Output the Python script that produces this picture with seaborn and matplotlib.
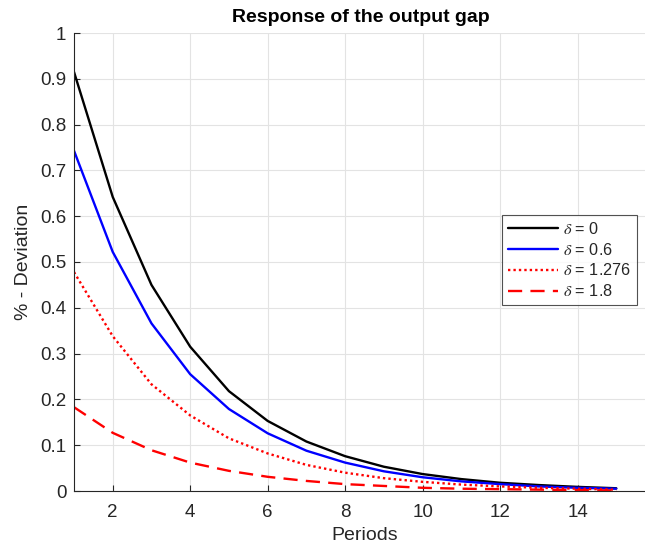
import matplotlib
matplotlib.use("Agg")
import matplotlib.pyplot as plt
import seaborn as sns
import pandas as pd

periods = list(range(1, 16))
delta_0 = [0.915, 0.642, 0.450, 0.315, 0.218, 0.153, 0.108, 0.076, 0.053, 0.037, 0.026, 0.018, 0.013, 0.009, 0.006]
delta_06 = [0.743, 0.522, 0.366, 0.255, 0.179, 0.126, 0.088, 0.062, 0.043, 0.030, 0.021, 0.015, 0.010, 0.007, 0.005]
delta_1276 = [0.478, 0.338, 0.233, 0.165, 0.115, 0.082, 0.057, 0.040, 0.028, 0.020, 0.014, 0.010, 0.007, 0.005, 0.003]
delta_18 = [0.183, 0.127, 0.089, 0.062, 0.044, 0.031, 0.022, 0.015, 0.011, 0.007, 0.005, 0.004, 0.003, 0.002, 0.001]
labels = [r"$\delta$ = 0", r"$\delta$ = 0.6", r"$\delta$ = 1.276", r"$\delta$ = 1.8"]
xticks = [2, 4, 6, 8, 10, 12, 14]
yticks = [0, 0.1, 0.2, 0.3, 0.4, 0.5, 0.6, 0.7, 0.8, 0.9, 1]
ytick_labels = ["0", "0.1", "0.2", "0.3", "0.4", "0.5", "0.6", "0.7", "0.8", "0.9", "1"]

sns.set_style("white")
plt.rcParams["font.family"] = ["Liberation Sans", "DejaVu Sans"]
plt.rcParams["mathtext.fontset"] = "stix"

fig = plt.figure(figsize=(6.45, 5.51), dpi=100)
ax = fig.add_axes([74 / 645, 60 / 551, (655 - 74) / 645, (491 - 33) / 551])

series = [delta_0, delta_06, delta_1276, delta_18]
colors = ["black", "blue", "red", "red"]
styles = ["-", "-", (0, (1, 1.3)), (0, (6, 3.5))]
for vals, lab, c, ls in zip(series, labels, colors, styles):
    df = pd.DataFrame({"Periods": periods, "val": vals})
    sns.lineplot(data=df, x="Periods", y="val", ax=ax, color=c, linestyle=ls,
                 linewidth=1.7, label=lab)

ax.set_xlim(1, 16)
ax.set_ylim(0, 1)
ax.set_xticks(xticks)
ax.set_xticklabels([str(t) for t in xticks])
ax.set_yticks(yticks)
ax.set_yticklabels(ytick_labels)
ax.grid(True, color="#e3e3e3", linewidth=0.8)
ax.set_axisbelow(True)
for s in ["top", "right"]:
    ax.spines[s].set_visible(False)
ax.spines["left"].set_color("#262626")
ax.spines["bottom"].set_color("#262626")
ax.spines["left"].set_linewidth(0.8)
ax.spines["bottom"].set_linewidth(0.8)
ax.tick_params(axis="both", direction="in", length=4, width=0.8, colors="#262626",
               labelsize=13.5, left=True, bottom=True)
ax.tick_params(axis="x", pad=9.5)
ax.tick_params(axis="y", pad=5.5)
ax.set_xlabel("Periods", fontsize=14, color="#262626", labelpad=4)
ax.set_ylabel("% - Deviation", fontsize=14, color="#262626", labelpad=6)
fig.text(361 / 645, 1 - 18 / 551, "Response of the output gap", ha="center", va="center",
         fontsize=14, fontweight="bold", color="black")

leg = ax.legend(loc="upper right", bbox_to_anchor=(637 / 645, 1 - 215 / 551),
                bbox_transform=fig.transFigure, frameon=True, fancybox=False,
                fontsize=11.7, handlelength=3.1, handletextpad=0.3,
                borderpad=0.35, labelspacing=0.3, borderaxespad=0)
leg.get_frame().set_edgecolor("#262626")
leg.get_frame().set_linewidth(0.8)

fig.savefig("out.png", dpi=100)
